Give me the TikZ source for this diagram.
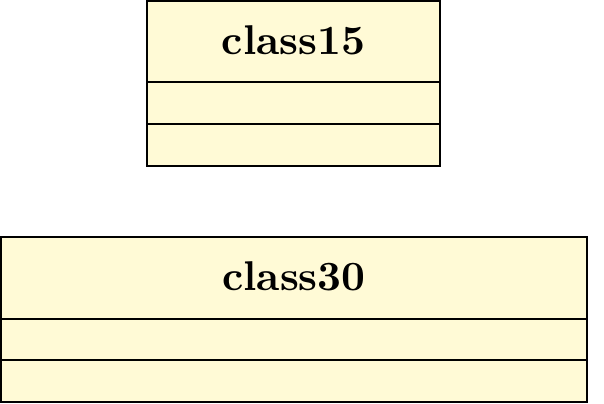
\documentclass[tikz,border=0pt]{standalone}
\begin{document}
\begin{tikzpicture}[x=0.25pt,y=-0.25pt,
  classfill/.style={fill={rgb,255:red,255;green,250;blue,214}, draw=black, line width=0.5pt},
  sepline/.style={draw=black, line width=0.5pt},
  classname/.style={font=\fontsize{10.4}{12}\selectfont\bfseries, inner sep=0pt}]
\useasboundingbox (0,0) rectangle (604,404);
% class15
\draw[classfill] (147,1) rectangle (440,166);
\draw[sepline] (147,82) -- (440,82);
\draw[sepline] (147,124.5) -- (440,124.5);
\node[classname] (c15) at (293.5,40) {class15};
% class30
\draw[classfill] (1,237) rectangle (587,402);
\draw[sepline] (1,319) -- (587,319);
\draw[sepline] (1,360.5) -- (587,360.5);
\node[classname] (c30) at (294,276) {class30};
\end{tikzpicture}
\end{document}
